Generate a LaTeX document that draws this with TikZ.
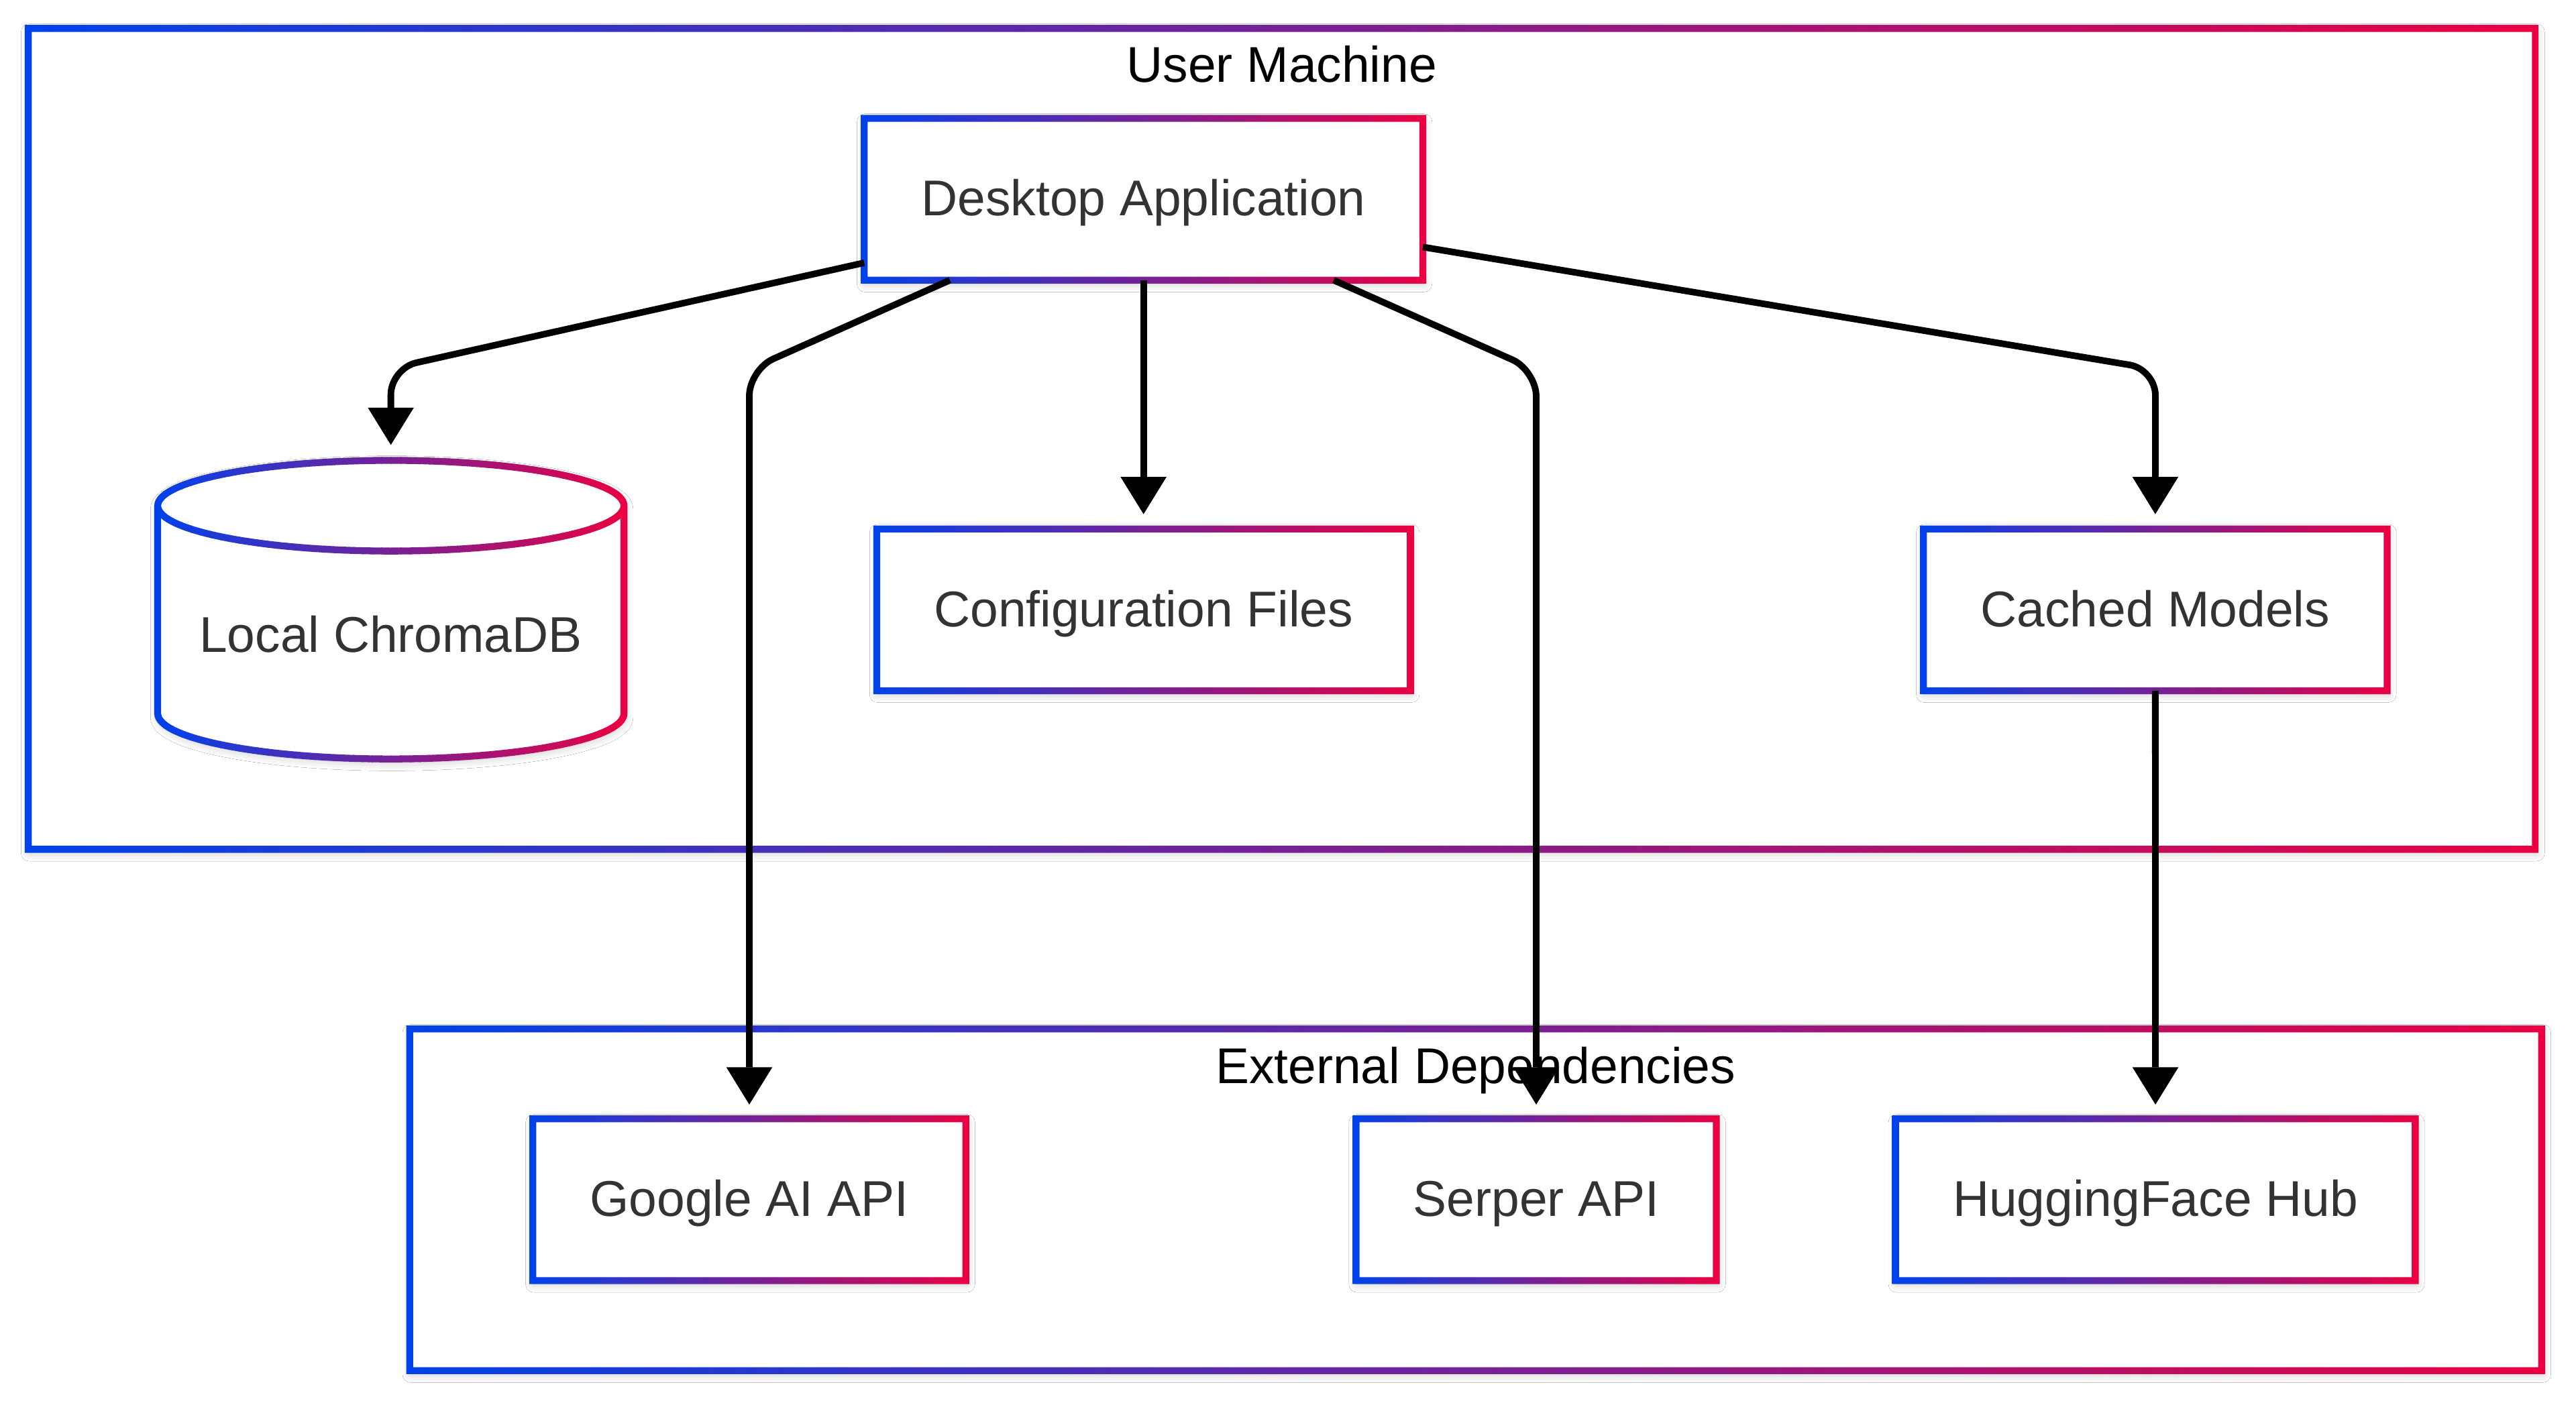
\documentclass[tikz,border=0pt]{standalone}
\usepackage{fontspec}
\setmainfont{Liberation Sans}
\usetikzlibrary{arrows.meta,shadows.blur}
\definecolor{gb}{RGB}{0,66,235}
\definecolor{gr}{RGB}{235,0,66}
\definecolor{txt}{RGB}{51,51,51}
\newcommand{\dfont}{\fontsize{30.6pt}{36pt}\selectfont}
\newcommand{\gring}[1]{%
  \shade[left color=gb, right color=gr]
    ([shift={(-2.1pt,-2.1pt)}]#1.south west) -- ([shift={(2.1pt,-2.1pt)}]#1.south east) --
    ([shift={(2.1pt,2.1pt)}]#1.north east) -- ([shift={(-2.1pt,2.1pt)}]#1.north west) -- cycle
    ([shift={(2.1pt,2.1pt)}]#1.south west) -- ([shift={(2.1pt,-2.1pt)}]#1.north west) --
    ([shift={(-2.1pt,-2.1pt)}]#1.north east) -- ([shift={(-2.1pt,2.1pt)}]#1.south east) -- cycle;}
\tikzset{
  sh/.style={blur shadow={shadow xshift=0.6pt, shadow yshift=-2.2pt, shadow blur radius=5pt, shadow opacity=22}},
  box/.style={rectangle, draw=none, fill=white, sh, inner xsep=34.8pt, inner ysep=0pt,
    minimum height=98.5pt, text height=20.2pt, text depth=0pt, outer sep=0pt, font=\dfont, text=txt},
  lbl/.style={inner sep=0pt, text height=20.2pt, text depth=0pt, font=\dfont, text=txt},
  cont/.style={rectangle, draw=none, fill=white, sh, inner sep=0pt, outer sep=0pt},
  ttl/.style={anchor=base, inner sep=0pt, font=\dfont, text=black},
  edge/.style={draw=black, line width=4pt, rounded corners=16pt,
    -{Triangle[length=22.7pt, width=28pt, line width=0pt]}},
}
\begin{document}
\begin{tikzpicture}[x=1pt,y=1pt]
\useasboundingbox (0,0) rectangle (1568,-853.83);
\fill[white] (0,0) rectangle (1568,-853.83);

% containers
\node[cont, minimum width=1526.1pt, minimum height=499.8pt] (um) at (780.25,-267.2) {};
\gring{um}
\node[ttl] (umt) at (780.25,-50) {User Machine};

\node[cont, minimum width=1297.7pt, minimum height=208pt] (ext) at (898.25,-730.5) {};
\gring{ext}
\node[ttl] (extt) at (898.25,-659.5) {External Dependencies};

% nodes
\node[box] (desk) at (696.05,-121.35) {Desktop Application};
\gring{desk}
\node[box] (conf) at (696.05,-371.3) {Configuration Files};
\gring{conf}
\node[box] (cach) at (1311.9,-371.3) {Cached Models};
\gring{cach}
\node[box] (goog) at (456.1,-730.45) {Google AI API};
\gring{goog}
\node[box] (serp) at (935.1,-730.45) {Serper API};
\gring{serp}
\node[box] (hf) at (1312,-730.45) {HuggingFace Hub};
\gring{hf}

% cylinder
\node[draw=none, inner sep=0pt, outer sep=0pt, minimum width=283.8pt, minimum height=181.8pt] (chroma) at (237.9,-371.2) {};
\path[fill=white, sh] (96,-307.9) -- (96,-434.5)
  arc[start angle=180, end angle=360, x radius=141.9pt, y radius=27.6pt] -- (379.8,-307.9)
  arc[start angle=0, end angle=180, x radius=141.9pt, y radius=27.6pt] -- cycle;
\foreach \i in {0,...,49}{
  \pgfmathsetmacro{\xa}{93.4+\i*5.78}
  \pgfmathsetmacro{\xb}{\xa+6.4}
  \pgfmathsetmacro{\pc}{(\i+0.5)*2}
  \begin{scope}
    \clip (\xa,-270) rectangle (\xb,-470);
    \draw[line width=4.2pt, draw=gr!\pc!gb] (96,-307.9) -- (96,-434.5)
      arc[start angle=180, end angle=360, x radius=141.9pt, y radius=27.6pt] -- (379.8,-307.9)
      arc[start angle=0, end angle=180, x radius=141.9pt, y radius=27.6pt] -- cycle
      (96,-307.9) arc[start angle=180, end angle=360, x radius=141.9pt, y radius=27.6pt];
  \end{scope}
}
\node[lbl] (chromalbl) at (237.9,-386.9) {Local ChromaDB};

% bends
\coordinate (b1) at (237.9,-224.3);
\coordinate (b2) at (456.1,-225);
\coordinate (b3) at (935.1,-225.5);
\coordinate (b4) at (1312,-224.8);

% edges
\draw[edge, shorten >=9.4pt] ([yshift=-38.65pt]desk.west) -- (b1) -- (chroma.north);
\draw[edge, shorten >=8.7pt] ([xshift=-117.85pt]desk.south) -- (b2) -- (goog.north);
\draw[edge, shorten >=9pt] (desk.south) -- (conf.north);
\draw[edge, shorten >=8.7pt] ([xshift=115.75pt]desk.south) -- (b3) -- (serp.north);
\draw[edge, shorten >=9pt] ([yshift=-29.05pt]desk.east) -- (b4) -- (cach.north);
\draw[edge, shorten >=8.7pt] (cach.south) -- (hf.north);
\end{tikzpicture}
\end{document}
